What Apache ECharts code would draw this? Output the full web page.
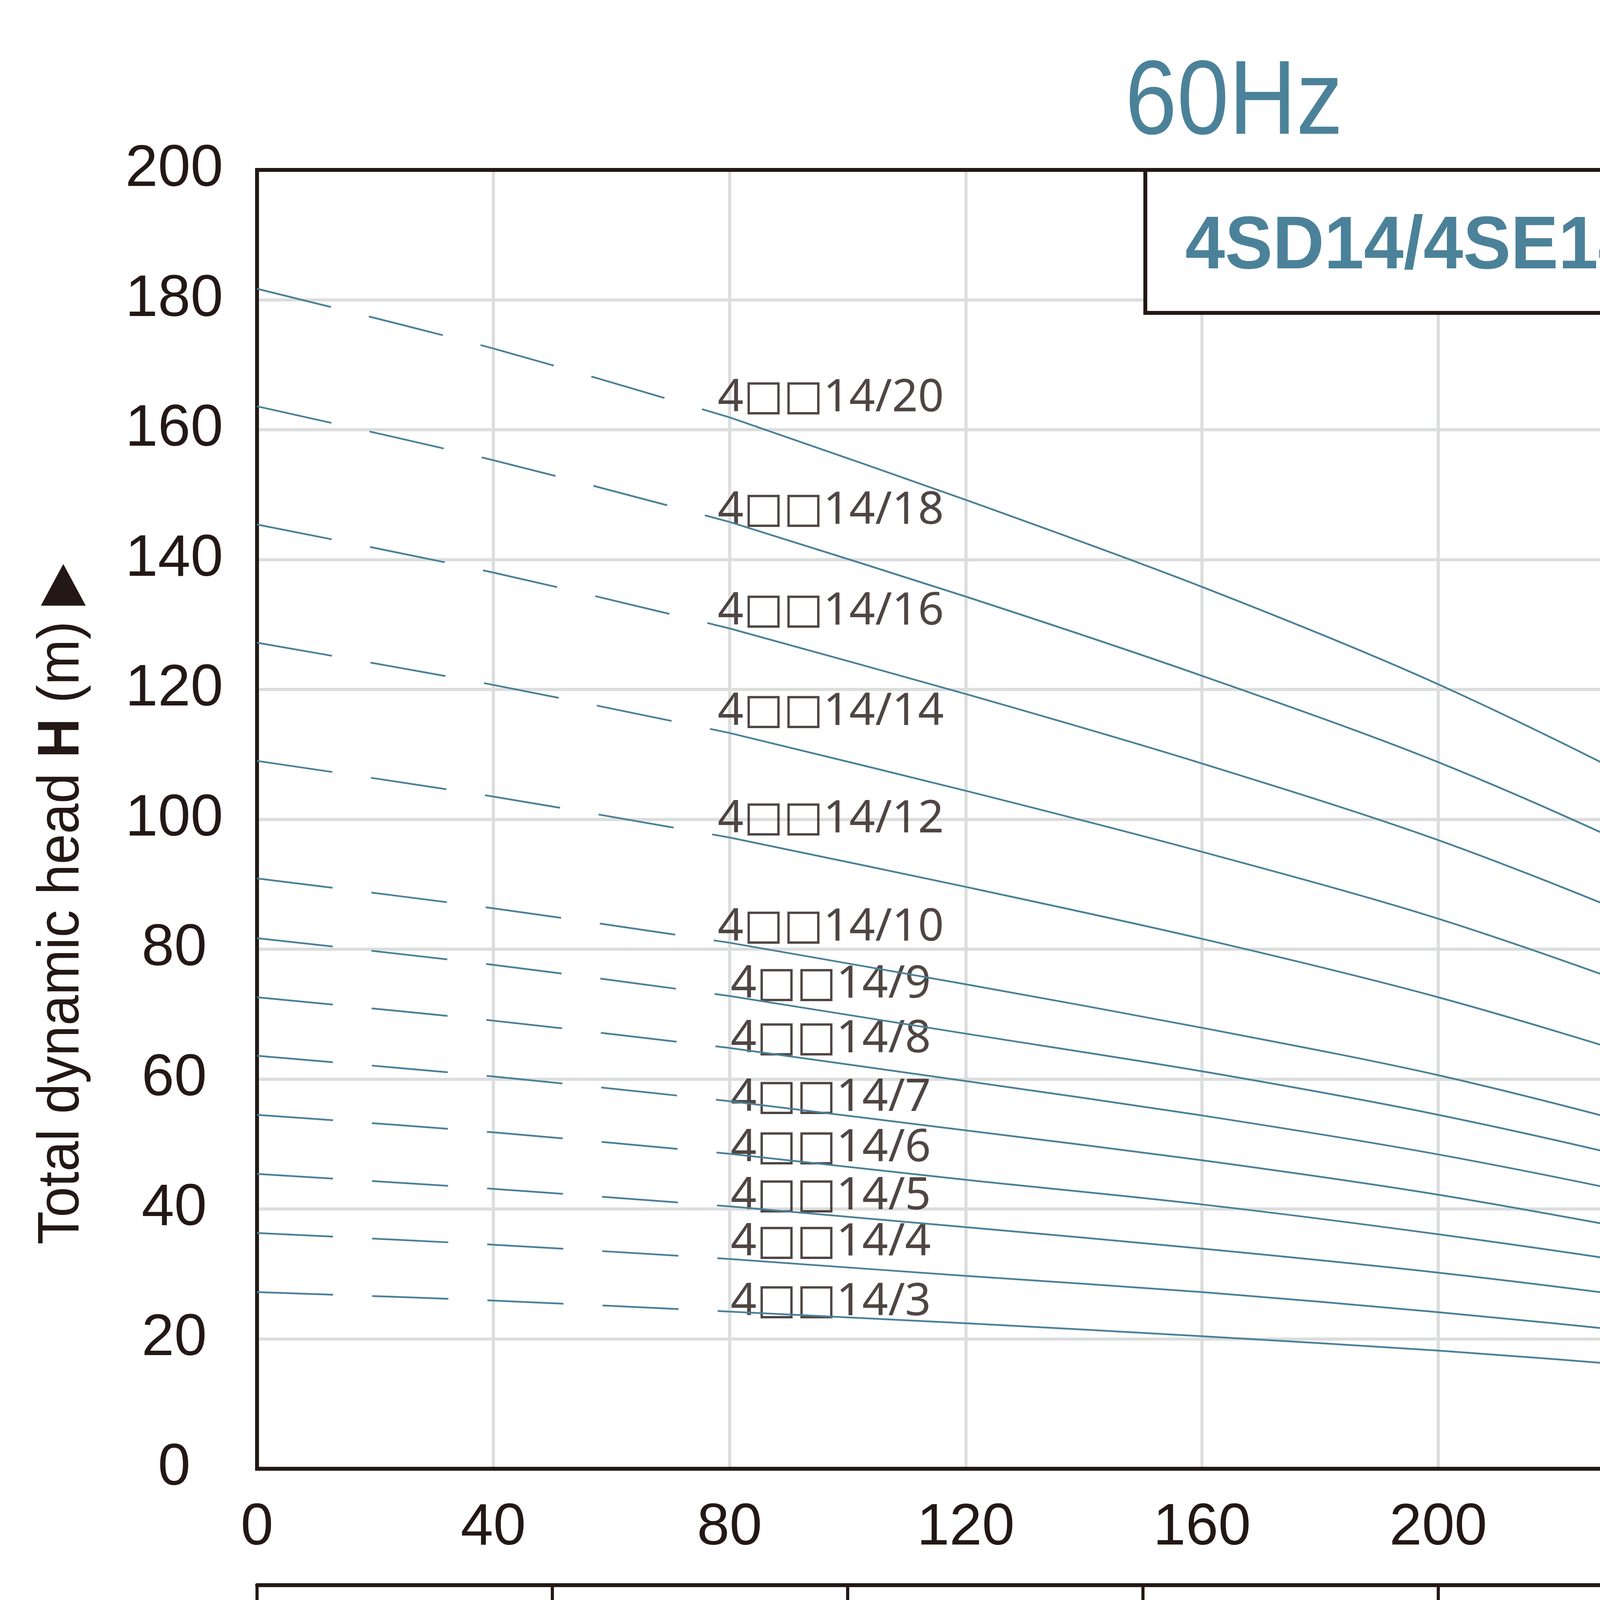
<!DOCTYPE html>
<html>
<head>
<meta charset="utf-8">
<script src="https://cdn.jsdelivr.net/npm/echarts@6/dist/echarts.min.js"></script>
<style>
html, body { margin: 0; padding: 0; background: #fff; }
#chart { width: 6314px; height: 4543px; }
</style>
</head>
<body>
<div id="chart"></div>
<script>
// flow points in l/min, dashed part is 0..80, solid part 80..320
const flowPoints = [0, 40, 80, 120, 160, 200, 240, 280, 320];

const models = ['4□□14/20', '4□□14/18', '4□□14/16', '4□□14/14', '4□□14/12', '4□□14/10',
	'4□□14/9', '4□□14/8', '4□□14/7', '4□□14/6', '4□□14/5', '4□□14/4', '4□□14/3'];

const head20 = [181.7, 172.5, 161.9, 149.2, 135.8, 120.8, 102.9, 81.7, 58.0];
const head18 = [163.6, 155.3, 145.8, 134.3, 122.1, 108.8, 92.7, 73.7, 52.2];
const head16 = [145.4, 138.0, 129.4, 119.3, 108.6, 96.8, 82.4, 65.4, 46.4];
const head14 = [127.2, 120.7, 113.3, 104.4, 95.0, 84.7, 72.0, 57.2, 40.6];
const head12 = [109.0, 103.5, 97.2, 89.6, 81.6, 72.6, 61.7, 49.1, 34.8];
const head10 = [90.9, 86.3, 81.0, 74.6, 67.9, 60.6, 51.4, 40.9, 29.0];
const head9 = [81.7, 77.6, 72.8, 67.0, 61.2, 54.5, 46.3, 36.9, 26.1];
const head8 = [72.6, 69.0, 64.8, 59.7, 54.4, 48.4, 41.1, 32.8, 23.2];
const head7 = [63.6, 60.4, 56.6, 52.1, 47.5, 42.2, 35.7, 28.7, 20.2];
const head6 = [54.5, 51.8, 48.5, 44.5, 40.7, 36.1, 30.8, 24.6, 17.2];
const head5 = [45.4, 43.1, 40.4, 37.2, 33.9, 30.2, 25.7, 20.5, 14.5];
const head4 = [36.3, 34.5, 32.3, 29.7, 27.2, 24.1, 20.5, 16.4, 11.6];
const head3 = [27.2, 25.9, 24.2, 22.4, 20.4, 18.2, 15.4, 12.3, 8.7];

// where the model names sit (flow l/min, head m)
const labelFlow = [78, 78, 78, 78, 78, 78, 80.2, 80.2, 80.2, 80.2, 80.2, 80.2, 80.2];
const labelHead = [164.8, 147.5, 132.0, 116.5, 100.0, 83.3, 74.5, 66.1, 57.1, 49.3, 41.9, 34.8, 25.6];

const m3hTicks = [0, 3, 6, 9, 12, 15, 18];

const heads = [head20, head18, head16, head14, head12, head10, head9, head8, head7, head6, head5, head4, head3];

const curveColor = '#4a8098';
const blueText = '#4b8299';
const ink = '#231815';
const grey = '#dcdddd';
const sans = 'Liberation Sans';

let myChart = echarts.init(document.getElementById('chart'));

let series = [];
heads.forEach((h, i) => {
	let pts = flowPoints.map((q, k) => [q, h[k]]);
	series.push({
		name: models[i] + ' dash',
		type: 'line',
		data: pts.slice(0, 3),
		smooth: 0.3,
		symbol: 'none',
		silent: true,
		lineStyle: { color: curveColor, width: 4.5, type: [195, 100] }
	});
	series.push({
		name: models[i],
		type: 'line',
		data: pts.slice(2),
		smooth: 0.3,
		symbol: 'none',
		silent: true,
		lineStyle: { color: curveColor, width: 4.5 }
	});
});

series.push({
	name: 'labels',
	type: 'scatter',
	symbolSize: 0,
	silent: true,
	data: models.map((m, i) => ({ name: m, value: [labelFlow[i], labelHead[i]] })),
	label: {
		show: true,
		position: 'right',
		distance: 0,
		formatter: (p) => p.name.replace(/(□+)/g, '{sq|$1}'),
		fontSize: 116,
		fontFamily: 'Noto Sans',
		color: ink,
		rich: {
			sq: { fontSize: 108, fontFamily: 'DejaVu Sans', color: ink }
		}
	}
});

let labelStyle = { fontSize: 150, fontFamily: sans, color: ink };

option = {
	animation: false,
	backgroundColor: '#fff',
	grid: {
		left: 658,
		right: 213,
		top: 435,
		bottom: 783,
		show: true,
		borderColor: ink,
		borderWidth: 10,
		z: 1
	},
	xAxis: [{
		type: 'value',
		min: 0,
		max: 360,
		interval: 40,
		axisLine: { show: false },
		axisTick: { show: false },
		splitLine: { lineStyle: { color: grey, width: 8 } },
		axisLabel: Object.assign({
			margin: 78,
			formatter: (v) => (v >= 360 ? '' : v)
		}, labelStyle)
	}, {
		type: 'value',
		position: 'bottom',
		offset: 298,
		min: 0,
		max: 21.6,
		interval: 3,
		axisLine: { show: true, lineStyle: { color: ink, width: 10 } },
		axisTick: { show: true, length: 45, customValues: m3hTicks, lineStyle: { color: ink, width: 8 } },
		splitLine: { show: false },
		axisLabel: Object.assign({
			margin: 68,
			customValues: m3hTicks,
			formatter: (v) => (v > 18 ? '' : v)
		}, labelStyle)
	}],
	yAxis: {
		type: 'value',
		min: 0,
		max: 200,
		interval: 20,
		axisLine: { show: false },
		axisTick: { show: false },
		splitLine: { lineStyle: { color: grey, width: 8 } },
		axisLabel: Object.assign({ align: 'center', margin: 212 }, labelStyle)
	},
	graphic: [{
		type: 'text',
		x: 3159,
		y: 268,
		scaleX: 0.885,
		style: { text: '60Hz', fontSize: 270, fontFamily: sans, fill: blueText, align: 'center', verticalAlign: 'middle' }
	}, {
		type: 'rect',
		z: 100,
		shape: { x: 2932, y: 435, width: 3169, height: 366 },
		style: { fill: '#fff', stroke: ink, lineWidth: 10 }
	}, {
		type: 'text',
		z: 101,
		x: 4518,
		y: 634,
		scaleX: 0.957,
		style: {
			text: '4SD14/4SE14/4SS14/4SA14/4QJ14',
			fontSize: 191, fontWeight: 'bold', fontFamily: sans, fill: blueText,
			align: 'center', verticalAlign: 'middle'
		}
	}, {
		type: 'text',
		x: 160,
		y: 2315,
		rotation: Math.PI / 2,
		scaleX: 0.934,
		style: {
			text: 'Total dynamic head {b|H} (m) ▶',
			fontSize: 150, fontFamily: sans, fill: ink,
			align: 'center', verticalAlign: 'middle',
			rich: { b: { fontWeight: 'bold', fontSize: 150, fontFamily: sans } }
		}
	}, {
		type: 'text',
		x: 3204,
		y: 4400,
		scaleX: 0.946,
		style: {
			text: 'Flow rate {b|Q} ▶',
			fontSize: 150, fontFamily: sans, fill: ink,
			align: 'center', verticalAlign: 'middle',
			rich: { b: { fontWeight: 'bold', fontSize: 150, fontFamily: sans } }
		}
	}, {
		type: 'text',
		x: 6061,
		y: 3908,
		style: { text: 'l/min', fontSize: 150, fontFamily: sans, fill: ink, align: 'right', verticalAlign: 'middle' }
	}, {
		type: 'text',
		x: 6061,
		y: 4196,
		style: {
			text: 'm{s|3}/h',
			fontSize: 150, fontFamily: sans, fill: ink, align: 'right', verticalAlign: 'middle',
			rich: { s: { fontSize: 80, fontFamily: sans, verticalAlign: 'top', lineHeight: 150 } }
		}
	}],
	series: series
};

myChart.setOption(option);
window.onresize = myChart.resize;
</script>
</body>
</html>
